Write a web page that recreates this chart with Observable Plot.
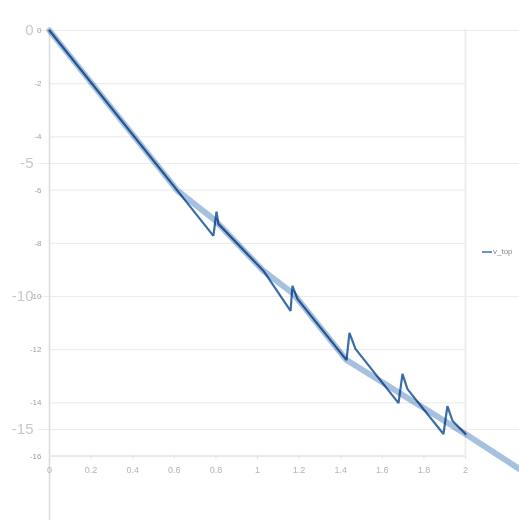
<!DOCTYPE html>
<html>
<head>
<meta charset="utf-8">
<script src="https://cdn.jsdelivr.net/npm/d3@7"></script>
<script src="https://cdn.jsdelivr.net/npm/@observablehq/plot@0.6"></script>
<style>
  html, body { margin: 0; padding: 0; background: #fff; }
  #wrap { position: relative; width: 519px; height: 520px; overflow: hidden; }
  #legend { position: absolute; left: 482px; top: 247px; font: 8px "Liberation Sans", Arial, sans-serif; color: #888; display: flex; align-items: center; }
  #legend span.sw { display: inline-block; width: 10px; height: 2px; background: #6a92c0; margin-right: 1px; }
</style>
</head>
<body>
<div id="wrap"><div id="legend"><span class="sw"></span><span>v_top</span></div></div>
<script>
// series: v_top (full resolution)
const tTop = [0, 0.615, 0.788, 0.803, 0.812, 1.029, 1.159, 1.168, 1.192, 1.428, 1.442, 1.471, 1.678, 1.697, 1.721, 1.894, 1.913, 1.938, 2.0];
const vTop = [0, -6.02, -7.72, -6.81, -7.27, -9.04, -10.54, -9.60, -10.09, -12.39, -11.37, -11.97, -14.01, -12.91, -13.48, -15.17, -14.12, -14.68, -15.17];
// series: v_top trend (thick light line)
const tTrend = [0, 0.615, 0.798, 0.812, 1.029, 1.173, 1.192, 1.428, 2.0, 2.26];
const vTrend = [0, -6.02, -7.15, -7.27, -9.04, -9.90, -10.09, -12.39, -15.17, -16.49];
// tick labels
const ySmallTicks = [0, -2, -4, -6, -8, -10, -12, -14, -16];
const yBigTicks = [0, -5, -10, -15];
const xTicks = [0, 0.2, 0.4, 0.6, 0.8, 1, 1.2, 1.4, 1.6, 1.8, 2];
const xTickLabels = ["0", "0.2", "0.4", "0.6", "0.8", "1", "1.2", "1.4", "1.6", "1.8", "2"];

const topData = tTop.map((t, i) => ({t, v: vTop[i]}));
const trendData = tTrend.map((t, i) => ({t, v: vTrend[i]}));

const font = "'Liberation Sans', Arial, sans-serif";
const xMax = 470 / 208;
const yMin = -490 / 26.6;

const chart = Plot.plot({
  width: 519,
  height: 520,
  marginLeft: 49,
  marginTop: 30,
  marginRight: 0,
  marginBottom: 0,
  style: {fontFamily: font, background: "transparent"},
  x: {domain: [0, xMax], axis: null},
  y: {domain: [yMin, 0], axis: null},
  marks: [
    Plot.ruleY(ySmallTicks, {y: d => d, x1: 0, x2: 2, stroke: "#e9e9e9", strokeWidth: 1}),
    Plot.ruleY(yBigTicks, {y: d => d, x1: -0.053, x2: xMax, stroke: "#ececec", strokeWidth: 1}),
    Plot.ruleX([0], {x: d => d, y1: yMin, y2: 0, stroke: "#dcdcdc", strokeWidth: 1.5}),
    Plot.ruleX([2], {x: d => d, y1: -16, y2: 0.05, stroke: "#eeeeee", strokeWidth: 2}),
    Plot.ruleY([-16], {y: d => d, x1: 0, x2: 2, stroke: "#e6e6e6", strokeWidth: 1.5}),
    Plot.ruleX(xTicks, {x: d => d, y1: -16, y2: -16.12, stroke: "#e0e0e0"}),
    Plot.text(yBigTicks, {x: 0, y: d => d, text: d => String(d), textAnchor: "end", dx: -16, fontSize: 15, fill: "#c8c8c8"}),
    Plot.text(ySmallTicks, {x: 0, y: d => d, text: d => String(d), textAnchor: "end", dx: -8, fontSize: 8, fill: "#a0a0a0"}),
    Plot.text(xTicks, {x: d => d, y: -16, dy: 14, text: (d, i) => xTickLabels[i], fontSize: 9, fill: "#b4b4b4"}),
    Plot.line(trendData, {x: "t", y: "v", stroke: "#a6c1df", strokeWidth: 6, strokeLinejoin: "round", strokeLinecap: "round", mixBlendMode: "multiply"}),
    Plot.line(topData, {x: "t", y: "v", stroke: "#3a6da8", strokeWidth: 2.2, strokeLinejoin: "miter", mixBlendMode: "multiply"})
  ]
});
document.getElementById("wrap").prepend(chart);
</script>
</body>
</html>
